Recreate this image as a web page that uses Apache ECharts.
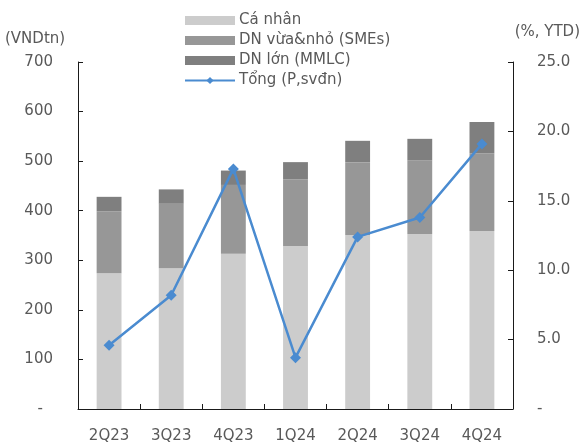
<!DOCTYPE html>
<html>
<head>
<meta charset="utf-8">
<script src="https://cdn.jsdelivr.net/npm/echarts@6/dist/echarts.min.js"></script>
<style>
  html, body { margin: 0; padding: 0; background: #fff; }
  #chart { width: 587px; height: 444px; }
</style>
</head>
<body>
<div id="chart"></div>
<script>
// Quarterly loan balance by customer segment (VND trillion) and total growth (% YTD)
const categories = ['2Q23', '3Q23', '4Q23', '1Q24', '2Q24', '3Q24', '4Q24'];
const individual = [274, 284, 313, 329, 351, 353, 359];
const smes = [125, 130, 139, 134, 147, 148, 157];
const mmlc = [29, 29, 29, 35, 43, 44, 63];
const totalGrowth = [4.6, 8.2, 17.3, 3.7, 12.4, 13.8, 19.1];

const seriesNames = ['Cá nhân', 'DN vừa&nhỏ (SMEs)', 'DN lớn (MMLC)', 'Tổng (P,svđn)'];
const leftUnit = '(VNDtn)';
const rightUnit = '(%, YTD)';

const FONT = 'DejaVu Sans';
const TEXT = '#595959';
const AXIS = '#1a1a1a';

const chart = echarts.init(document.getElementById('chart'));

const barSeries = (name, data, color) => ({
  name,
  type: 'bar',
  stack: 'loans',
  yAxisIndex: 0,
  barWidth: '40%',
  data,
  itemStyle: { color },
  emphasis: { disabled: true }
});

chart.setOption({
  animation: false,
  textStyle: { fontFamily: FONT },
  grid: { left: 78, right: 74, top: 62, bottom: 35 },
  legend: {
    orient: 'vertical',
    left: 179,
    top: 8,
    itemWidth: 50,
    itemHeight: 9,
    itemGap: 5,
    textStyle: { fontFamily: FONT, fontSize: 15, color: TEXT, padding: [0, 0, 0, -1] },
    data: [
      { name: seriesNames[0], icon: 'rect' },
      { name: seriesNames[1], icon: 'rect' },
      { name: seriesNames[2], icon: 'rect' },
      { name: seriesNames[3] }
    ]
  },
  graphic: [
    { type: 'text', left: 5, top: 32, style: { text: leftUnit, font: '15px "' + FONT + '"', fill: TEXT } },
    { type: 'text', right: 7, top: 25, style: { text: rightUnit, font: '15px "' + FONT + '"', fill: TEXT } }
  ],
  xAxis: {
    type: 'category',
    data: categories,
    axisLine: { lineStyle: { color: AXIS, width: 1 } },
    axisTick: { show: true, inside: true, length: 5, lineStyle: { color: AXIS } },
    axisLabel: { color: TEXT, fontSize: 15, fontFamily: FONT, margin: 20 }
  },
  yAxis: [
    {
      type: 'value',
      min: 0, max: 700, interval: 100,
      splitLine: { show: false },
      axisLine: { show: true, lineStyle: { color: AXIS, width: 1 } },
      axisTick: { show: true, inside: true, length: 5, lineStyle: { color: AXIS } },
      axisLabel: {
        color: TEXT, fontSize: 15, fontFamily: FONT, margin: 25,
        formatter: v => v === 0 ? '{z|-}' : String(v),
        rich: { z: { color: TEXT, fontSize: 15, fontFamily: FONT, padding: [0, 10, 0, 0] } }
      }
    },
    {
      type: 'value',
      min: 0, max: 25, interval: 5,
      splitLine: { show: false },
      axisLine: { show: true, lineStyle: { color: AXIS, width: 1 } },
      axisTick: { show: true, inside: true, length: 5, lineStyle: { color: AXIS } },
      axisLabel: {
        color: TEXT, fontSize: 15, fontFamily: FONT, margin: 24,
        formatter: v => v === 0 ? '-' : v.toFixed(1)
      }
    }
  ],
  series: [
    barSeries(seriesNames[0], individual, '#cccccc'),
    barSeries(seriesNames[1], smes, '#979797'),
    barSeries(seriesNames[2], mmlc, '#7f7f7f'),
    {
      name: seriesNames[3],
      type: 'line',
      yAxisIndex: 1,
      data: totalGrowth,
      symbol: 'diamond',
      symbolSize: 11,
      lineStyle: { color: '#4a8bd0', width: 2.5 },
      itemStyle: { color: '#4a8bd0' },
      emphasis: { disabled: true }
    }
  ]
});
</script>
</body>
</html>
